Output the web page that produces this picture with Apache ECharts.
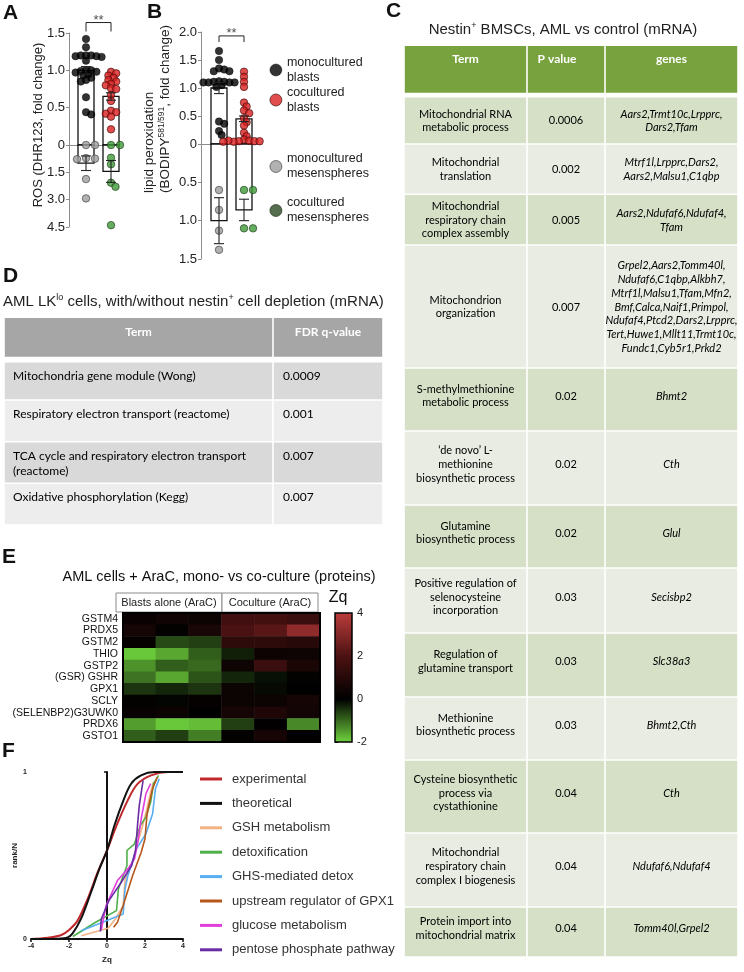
<!DOCTYPE html>
<html>
<head>
<meta charset="utf-8">
<script src="https://cdn.jsdelivr.net/npm/echarts@6/dist/echarts.min.js"></script>
<style>
html,body{margin:0;padding:0;background:#fff;}
#main{width:744px;height:972px;}
</style>
</head>
<body>
<div id="main"></div>
<script>
// ---- panel A : ROS (DHR123), blasts up / mesenspheres down
var aMonoBlasts=[1.42,1.31,1.2,1.2,1.2,1.19,1.19,1.18,1.13,1.0,1.0,0.99,0.98,0.97,0.95,0.93,0.9,0.87,0.85,0.64,0.44,0.41];
var aCoBlasts=[0.98,0.96,0.93,0.9,0.87,0.85,0.82,0.8,0.76,0.75,0.67,0.59,0.46,0.44,0.42,0.38,0.21];
var aMonoMesen=[0,0,0.72,0.75,0.78,1.87,2.93];
var aCoMesen=[0,0,0.7,1.06,2.07,2.29,4.4];
var aBlastBars=[[1,1.0,0.05],[2,0.65,0.05]];   // x, mean, sem
var aMesenBars=[[1,1.0,0.4],[2,1.45,0.6]];
// ---- panel B : lipid peroxidation
var bMonoBlasts=[1.66,1.5,1.35,1.33,1.3,1.3,1.12,1.11,1.11,1.1,1.1,1.1,1.1,1.05,1.02,0.4,0.36,0.23,0.16];
var bCoBlasts=[1.29,1.2,1.11,1.02,0.74,0.67,0.6,0.55,0.46,0.39,0.33,0.2,0.14,0.08,0.06,0.05,0.05,0.04,0.05,0.06,0.05,0.04];
var bMonoMesen=[0.6,0.86,1.13,1.38];
var bCoMesen=[0.6,0.6,1.1,1.1];
var bBlastBars=[[1,1.0,0.1],[2,0.45,0.05]];
var bMesenBars=[[1,1.0,0.3],[2,0.86,0.14]];

// ---- panel C table
var cHead=['Term','P value','genes'];
var cTerms=['Mitochondrial RNA\nmetabolic process','Mitochondrial\ntranslation','Mitochondrial\nrespiratory chain\ncomplex assembly','Mitochondrion\norganization','S-methylmethionine\nmetabolic process','\u2018de novo\u2019 L-\nmethionine\nbiosynthetic process','Glutamine\nbiosynthetic process','Positive regulation of\nselenocysteine\nincorporation','Regulation of\nglutamine transport','Methionine\nbiosynthetic process','Cysteine biosynthetic\nprocess via\ncystathionine','Mitochondrial\nrespiratory chain\ncomplex I biogenesis','Protein import into\nmitochondrial matrix'];
var cPvals=['0.0006','0.002','0.005','0.007','0.02','0.02','0.02','0.03','0.03','0.03','0.04','0.04','0.04'];
var cGenes=['Aars2,Trmt10c,Lrpprc,\nDars2,Tfam','Mtrf1l,Lrpprc,Dars2,\nAars2,Malsu1,C1qbp','Aars2,Ndufaf6,Ndufaf4,\nTfam','Grpel2,Aars2,Tomm40l,\nNdufaf6,C1qbp,Alkbh7,\nMtrf1l,Malsu1,Tfam,Mfn2,\nBmf,Calca,Naif1,Primpol,\nNdufaf4,Ptcd2,Dars2,Lrpprc,\nTert,Huwe1,Mllt11,Trmt10c,\nFundc1,Cyb5r1,Prkd2','Bhmt2','Cth','Glul','Secisbp2','Slc38a3','Bhmt2,Cth','Cth','Ndufaf6,Ndufaf4','Tomm40l,Grpel2'];

// ---- panel D table
var dHead=['Term','FDR q-value'];
var dTerms=['Mitochondria gene module (Wong)','Respiratory electron transport (reactome)','TCA cycle and respiratory electron transport\n(reactome)','Oxidative phosphorylation (Kegg)'];
var dFdr=['0.0009','0.001','0.007','0.007'];

// ---- panel E heatmap
var hmRows=['GSTM4','PRDX5','GSTM2','THIO','GSTP2','(GSR) GSHR','GPX1','SCLY','(SELENBP2)G3UWK0','PRDX6','GSTO1'];
var hmCols=['b1','b2','b3','c1','c2','c3'];
var hmGroups=['Blasts alone (AraC)','Coculture (AraC)'];
var hmValues=[
 [0.25,0.45,0.3,1.7,1.75,1.5],
 [0.55,0.1,0.65,1.9,2.2,3.2],
 [0.15,-0.7,-0.6,1.2,1.2,1.0],
 [-1.9,-1.6,-0.9,-0.3,0.35,0.4],
 [-1.4,-0.9,-1.0,0.4,1.5,0.7],
 [-1.1,-1.6,-0.8,-0.35,-0.15,0.1],
 [-0.5,-0.35,-0.5,0.3,-0.1,0.0],
 [0.1,-0.05,0.15,0.3,0.3,0.55],
 [0.2,0.3,0.0,0.55,0.8,0.5],
 [-1.5,-1.9,-1.8,-0.6,0.05,-1.3],
 [-0.9,-0.6,-1.2,0.1,0.6,0.05]
];

// ---- panel F rank plot
var fNames=['experimental','theoretical','GSH metabolism','detoxification','GHS-mediated detox','upstream regulator of GPX1','glucose metabolism','pentose phosphate pathway'];
var fExperimental=[[-4,0],[-3.1,0.008],[-2.4,0.024],[-2,0.054],[-1.55,0.11],[-1.02,0.24],[-0.49,0.4],[0,0.53],[0.47,0.67],[1.09,0.83],[1.62,0.93],[2.32,0.98],[3.2,1],[4,1]];
var fTheoretical=[[-4,0],[-2.6,0.002],[-2.07,0.01],[-1.81,0.034],[-1.37,0.12],[-0.84,0.28],[-0.4,0.42],[0,0.53],[0.39,0.68],[0.83,0.82],[1.27,0.93],[1.79,0.98],[2.5,1],[4,1]];
var fGsh=[[-1.35,0.02],[0.05,0.065],[0.45,0.12],[0.85,0.2],[0.95,0.35],[1.3,0.45],[1.6,0.57],[1.9,0.69],[2.1,0.78],[2.3,0.88],[2.45,0.94]];
var fDetox=[[-1.8,0.015],[-0.6,0.1],[0.5,0.17],[0.6,0.3],[1.05,0.44],[1.05,0.53],[1.45,0.57],[1.75,0.68],[2.05,0.73],[2.3,0.82],[2.45,0.93],[2.72,0.98]];
var fGhs=[[-1.35,0.05],[0.85,0.15],[0.95,0.3],[1.1,0.38],[1.55,0.54],[2.05,0.63],[2.4,0.75],[2.55,0.9],[2.75,0.96]];
var fUpstream=[[0.35,0.07],[0.55,0.1],[0.85,0.2],[1.35,0.38],[1.8,0.52],[2.0,0.6],[2.1,0.74],[2.2,0.8],[2.4,0.9],[2.65,0.97]];
var fGlucose=[[-0.3,0.055],[-0.05,0.2],[0.55,0.35],[1.1,0.42],[1.45,0.48],[1.62,0.58],[1.8,0.72],[2.05,0.87],[2.3,0.93]];
var fPentose=[[-0.35,0.045],[-0.3,0.12],[0.1,0.23],[0.75,0.34],[1.3,0.44],[1.5,0.53],[1.62,0.7],[1.7,0.8],[1.9,0.95]];
var fData=[fExperimental,fTheoretical,fGsh,fDetox,fGhs,fUpstream,fGlucose,fPentose];
var fColors=['#c0282b','#111111','#f3b283','#4fb04a','#58aef0','#b5561a','#e03fdc','#6a2ca4'];

var fontA='"Liberation Sans", Arial, sans-serif';
var fontT='Lato, "Liberation Sans", sans-serif';

var chart=echarts.init(document.getElementById('main'));

// layout of the panels
var gA1={left:69,top:33,width:50,height:112}, gA2={left:69,top:145,width:50,height:82};
var gB1={left:201,top:32,width:61,height:112}, gB2={left:201,top:144,width:61,height:115};
var gE={left:123,top:613,width:197,height:129}, gCb={left:335,top:613,width:17,height:129};
var gF={left:31,top:772,width:152,height:167};
var pxX=25; // px per x unit in A/B

// simple beeswarm so dots with close values spread sideways
function swarm(vals,xc,pxY,d,step){
  var placed=[],out=[];
  vals.forEach(function(v){
    var py=v*pxY,ox=0;
    for(var n=0;n<40;n++){
      var k=n===0?0:(n%2?Math.ceil(n/2):-Math.ceil(n/2));
      ox=k*step;
      var hit=placed.some(function(p){var dx=p[0]-ox,dy=p[1]-py;return dx*dx+dy*dy<d*d;});
      if(!hit)break;
    }
    placed.push([ox,py]);
    out.push([xc+ox/pxX,v]);
  });
  return out;
}

function barRender(params,api){
  var x=api.value(0),m=api.value(1);
  var p0=api.coord([x,0]),p1=api.coord([x,m]);
  return {type:'rect',shape:{x:p0[0]-8,y:Math.min(p0[1],p1[1]),width:16,height:Math.abs(p1[1]-p0[1])},
    style:{fill:'#fff',stroke:'#111',lineWidth:1.3}};
}
function errRender(params,api){
  var x=api.value(0),m=api.value(1),e=api.value(2);
  var a=api.coord([x,m+e]),b=api.coord([x,m-e]);
  var st={stroke:'#222',lineWidth:1.1};
  return {type:'group',children:[
    {type:'line',shape:{x1:a[0],y1:a[1],x2:b[0],y2:b[1]},style:st},
    {type:'line',shape:{x1:a[0]-5,y1:a[1],x2:a[0]+5,y2:a[1]},style:st},
    {type:'line',shape:{x1:b[0]-5,y1:b[1],x2:b[0]+5,y2:b[1]},style:st}
  ]};
}

var dotStyle={
  mb:{color:'#000',borderColor:'#000',borderWidth:0.5},
  cb:{color:'#d91f1f',borderColor:'#3b0a0a',borderWidth:0.8},
  mm:{color:'#9d9d9d',borderColor:'#3a3a3a',borderWidth:0.8},
  cm:{color:'#3f9a37',borderColor:'#1c3a17',borderWidth:0.8}
};
var nm={mb:'monocultured\nblasts',cb:'cocultured\nblasts',mm:'monocultured\nmesenspheres',cm:'cocultured\nmesenspheres'};

var series=[];
function panel(ix1,ix2,pxY1,pxY2,mb,cb,mm,cm,bars1,bars2,brY,brLeg){
  series.push({type:'custom',xAxisIndex:ix1,yAxisIndex:ix1,renderItem:barRender,data:bars1,z:1,silent:true});
  series.push({type:'custom',xAxisIndex:ix2,yAxisIndex:ix2,renderItem:barRender,data:bars2,z:1,silent:true});
  series.push({type:'scatter',name:nm.mb,xAxisIndex:ix1,yAxisIndex:ix1,symbolSize:7.5,itemStyle:dotStyle.mb,data:swarm(mb,1,pxY1,4.2,2.6),z:3});
  series.push({type:'scatter',name:nm.cb,xAxisIndex:ix1,yAxisIndex:ix1,symbolSize:7.5,itemStyle:dotStyle.cb,data:swarm(cb,2,pxY1,4.2,2.6),z:3});
  series.push({type:'scatter',name:nm.mm,xAxisIndex:ix2,yAxisIndex:ix2,symbolSize:7.5,itemStyle:dotStyle.mm,data:swarm(mm,1,pxY2,6,4.5),z:3,clip:false});
  series.push({type:'scatter',name:nm.cm,xAxisIndex:ix2,yAxisIndex:ix2,symbolSize:7.5,itemStyle:dotStyle.cm,data:swarm(cm,2,pxY2,6,4.5),z:3,clip:false});
  series.push({type:'custom',xAxisIndex:ix1,yAxisIndex:ix1,renderItem:errRender,data:bars1,z:4,silent:true});
  series.push({type:'custom',xAxisIndex:ix2,yAxisIndex:ix2,renderItem:errRender,data:bars2,z:4,silent:true});
  // significance bracket
  series.push({type:'line',xAxisIndex:ix1,yAxisIndex:ix1,clip:false,symbol:'none',silent:true,
    lineStyle:{color:'#222',width:1},data:[[1,brLeg],[1,brY],[2,brY],[2,brLeg]],z:5});
  series.push({type:'scatter',xAxisIndex:ix1,yAxisIndex:ix1,clip:false,symbolSize:0,silent:true,data:[[1.5,brY]],
    label:{show:true,formatter:'**',position:'top',distance:0,offset:[0,4],fontSize:13,color:'#222',fontFamily:fontA}});
}
panel(0,1,74.7,18.2,aMonoBlasts,aCoBlasts,aMonoMesen,aCoMesen,aBlastBars,aMesenBars,1.64,1.52);
panel(2,3,56,77,bMonoBlasts,bCoBlasts,bMonoMesen,bCoMesen,bBlastBars,bMesenBars,1.93,1.82);

// heatmap
var hmData=[];
hmValues.forEach(function(row,r){row.forEach(function(v,c){hmData.push([c,r,v]);});});
var hmIndex=series.length;
series.push({type:'heatmap',xAxisIndex:4,yAxisIndex:4,data:hmData,itemStyle:{borderWidth:0},silent:true});

// rank curves
fNames.forEach(function(n,i){
  series.push({type:'line',name:n,xAxisIndex:6,yAxisIndex:6,data:fData[i],symbol:'none',smooth:i<2?0.35:false,
    lineStyle:{color:fColors[i],width:i<2?2:1.6},itemStyle:{color:fColors[i]},z:i<2?2:3,silent:true});
});

var lblA={color:'#222',fontSize:13,fontFamily:fontA,margin:4};
var axLine={show:true,lineStyle:{color:'#8c8c8c',width:1}};
var tick={show:true,length:3,lineStyle:{color:'#8c8c8c'}};
function fmtUp(v){return v===0?'0':v.toFixed(1);}
function fmtDown(v){return v===0?'':v.toFixed(1);}
function hiddenX(g,min,max){return {type:'value',gridIndex:g,min:min,max:max,show:false};}
function zeroX(g,min,max){return {type:'value',gridIndex:g,min:min,max:max,axisLine:axLine,axisTick:{show:false},axisLabel:{show:false},splitLine:{show:false}};}
function valY(g,max,int,inv,fmt){return {type:'value',gridIndex:g,min:0,max:max,interval:int,inverse:inv,axisLine:axLine,axisTick:tick,
  axisLabel:Object.assign({formatter:fmt},lblA),splitLine:{show:false}};}

var fLbl={fontSize:7,fontWeight:'bold',color:'#222',fontFamily:fontA,margin:4};

// graphic: labels, titles, tables
var gfx=[];
function txt(x,y,s,o){o=o||{};gfx.push({type:'text',x:x,y:y,rotation:o.rot||0,silent:true,z:o.z||10,
  style:{text:s,fill:o.fill||'#222',fontSize:o.size||12,fontFamily:o.family||fontA,fontWeight:o.weight||'normal',
  fontStyle:o.style||'normal',align:o.align||'left',verticalAlign:o.va||'middle',lineHeight:o.lh,rich:o.rich}});}
function box(x,y,w,h,fill,stroke,lw,z){gfx.push({type:'rect',silent:true,z:z||1,shape:{x:x,y:y,width:w,height:h},
  style:{fill:fill||'none',stroke:stroke||null,lineWidth:lw||0}});}

[['A',3,13],['B',147,12],['C',386,11],['D',3,276],['E',2,557],['F',2,751]].forEach(function(p){
  txt(p[1],p[2],p[0],{size:21,weight:'bold',fill:'#111'});
});

// axis titles A/B
txt(38,125,'ROS (DHR123, fold change)',{size:13,rot:Math.PI/2,align:'center'});
txt(157,193,'{a|lipid peroxidation}\n{a|(BODIPY}{s|581/591}{a|, fold change)}',{rot:Math.PI/2,align:'left',
  rich:{a:{fontSize:13.5,fontFamily:fontA,color:'#222',lineHeight:16},s:{fontSize:8.5,fontFamily:fontA,color:'#222',lineHeight:10,verticalAlign:'top'}}});

// titles
var supRich=function(sz){return {a:{fontSize:sz,fontFamily:fontA,color:'#111',lineHeight:sz+3},s:{fontSize:sz*0.6,fontFamily:fontA,color:'#111',lineHeight:sz*0.6+1,verticalAlign:'top'}};};
txt(563,30,'{a|Nestin}{s|+}{a| BMSCs, AML vs control (mRNA)}',{align:'center',rich:supRich(15)});
txt(3,302,'{a|AML LK}{s|lo}{a| cells, with/without nestin}{s|+}{a| cell depletion (mRNA)}',{align:'left',rich:supRich(15)});
txt(219,577,'AML cells + AraC, mono- vs co-culture (proteins)',{size:14.5,align:'center',fill:'#111'});

// table C
var cEdges=[404,527,605,738];
var cRowTops=[96.7,144,194.3,245,368,431,505,568,633,697,760,833,907,957];
var cHeadTop=46,cHeadBot=92.7,gap=0.8;
var cColors={head:'#77a23e',dark:'#d5e0c7',light:'#e8ece3'};
for(var c=0;c<3;c++){
  box(cEdges[c]+gap,cHeadTop,cEdges[c+1]-cEdges[c]-2*gap,cHeadBot-cHeadTop,cColors.head);
  txt((cEdges[c]+cEdges[c+1])/2-(c===1?9:0),59,cHead[c],{family:fontT,weight:'bold',size:12,fill:'#fff',align:'center'});
}
cTerms.forEach(function(t,i){
  var y0=cRowTops[i],y1=cRowTops[i+1],h=y1-y0;
  var fill=i%2===0?cColors.dark:cColors.light;
  var cy=y0+h/2-(i>=4?4:0)+0.5;
  var cols=[t,cPvals[i],cGenes[i]];
  for(var c=0;c<3;c++){
    box(cEdges[c]+gap,y0+gap,cEdges[c+1]-cEdges[c]-2*gap,h-2*gap,fill);
    txt((cEdges[c]+cEdges[c+1])/2,cy,cols[c],{family:fontT,size:11,lh:13.7,align:'center',fill:'#000',style:c===2?'italic':'normal'});
  }
});

// table D
var dEdges=[4,273,383];
var dRowTops=[361.7,400,441.7,483.3,525];
var dHeadTop=318,dHeadBot=356.7;
for(var c=0;c<2;c++){
  box(dEdges[c]+gap,dHeadTop,dEdges[c+1]-dEdges[c]-2*gap,dHeadBot-dHeadTop,'#a6a6a6');
  txt((dEdges[c]+dEdges[c+1])/2,331.7,dHead[c],{family:fontT,weight:'bold',size:12,fill:'#fff',align:'center'});
}
dTerms.forEach(function(t,i){
  var y0=dRowTops[i],y1=dRowTops[i+1];
  var fill=i%2===0?'#d9d9d9':'#ededed';
  box(dEdges[0]+gap,y0+gap,dEdges[1]-dEdges[0]-2*gap,y1-y0-2*gap,fill);
  box(dEdges[1]+gap,y0+gap,dEdges[2]-dEdges[1]-2*gap,y1-y0-2*gap,fill);
  txt(13,y0+6.5,t,{family:fontT,size:12,lh:15,va:'top',fill:'#000'});
  txt(283,y0+6.5,dFdr[i],{family:fontT,size:12,lh:15,va:'top',fill:'#000'});
});

// heatmap group headers, borders, colorbar label
var hgX=[116,222,318];
hmGroups.forEach(function(g,i){
  box(hgX[i],593,hgX[i+1]-hgX[i],19,'#fff','#8a8a8a',1,2);
  txt((hgX[i]+hgX[i+1])/2,602.5,g,{size:11,align:'center',fill:'#222'});
});
box(gE.left,gE.top,gE.width,gE.height,null,'#000',2,20);
box(gCb.left,gCb.top,gCb.width,gCb.height,null,'#000',1.5,20);
txt(338,598,'Zq',{size:16,align:'center',fill:'#111'});

var option={
  animation:false,
  backgroundColor:'#fff',
  grid:[gA1,gA2,gB1,gB2,gE,gCb,gF].map(function(g){return Object.assign({containLabel:false},g);}),
  xAxis:[
    zeroX(0,0.32,2.32),hiddenX(1,0.32,2.32),zeroX(2,0.28,2.72),hiddenX(3,0.28,2.72),
    {type:'category',gridIndex:4,data:hmCols,show:false},
    {type:'value',gridIndex:5,show:false},
    {type:'value',gridIndex:6,min:-4,max:4,interval:2,axisLine:{show:true,lineStyle:{color:'#111',width:2}},
      axisTick:{show:true,length:3,lineStyle:{color:'#111',width:1.5}},axisLabel:fLbl,splitLine:{show:false},
      name:'Zq',nameLocation:'middle',nameGap:17,nameTextStyle:{fontSize:8,fontWeight:'bold',color:'#222',fontFamily:fontA}}
  ],
  yAxis:[
    valY(0,1.5,0.5,false,fmtUp),valY(1,4.5,1.5,true,fmtDown),valY(2,2,0.5,false,fmtUp),valY(3,1.5,0.5,true,fmtDown),
    {type:'category',gridIndex:4,data:hmRows,inverse:true,axisLine:{show:false},axisTick:{show:false},
      axisLabel:{interval:0,fontSize:10.5,color:'#111',fontFamily:fontA,margin:5}},
    {type:'value',gridIndex:5,position:'right',min:-2,max:4,interval:2,axisLine:{show:false},
      axisTick:{show:true,length:3,lineStyle:{color:'#111'}},axisLabel:{fontSize:11,color:'#222',fontFamily:fontA,margin:5},splitLine:{show:false}},
    {type:'value',gridIndex:6,min:0,max:1,interval:1,axisLine:{show:true,lineStyle:{color:'#111',width:2}},
      axisTick:{show:true,length:3,lineStyle:{color:'#111',width:1.5}},axisLabel:fLbl,splitLine:{show:false},
      name:'rank/N',nameLocation:'middle',nameGap:12,nameRotate:90,nameTextStyle:{fontSize:8,fontWeight:'bold',color:'#222',fontFamily:fontA}}
  ],
  visualMap:{type:'continuous',seriesIndex:hmIndex,min:-2,max:4,calculable:false,show:true,
    left:gCb.left-5,top:gCb.top-5,itemWidth:gCb.width,itemHeight:gCb.height,padding:5,
    inRange:{color:['#6fd13d','#000000','#4d1212','#bb3c3c']},textStyle:{color:'#fff',fontSize:1}},
  legend:[
    {data:[{name:nm.mb,itemStyle:dotStyle.mb},{name:nm.cb,itemStyle:dotStyle.cb}],orient:'vertical',left:269.5,top:55,
      icon:'circle',itemWidth:12,itemHeight:12,itemGap:0,selectedMode:false,padding:0,
      textStyle:{fontSize:12.5,lineHeight:15,color:'#222',fontFamily:fontA}},
    {data:[{name:nm.mm,itemStyle:dotStyle.mm},{name:nm.cm,itemStyle:{color:'#2d4a22',borderColor:'#1a2a14',borderWidth:0.8}}],orient:'vertical',left:269.5,top:151.5,
      icon:'circle',itemWidth:12,itemHeight:12,itemGap:14,selectedMode:false,padding:0,
      textStyle:{fontSize:12.5,lineHeight:15,color:'#222',fontFamily:fontA}},
    {data:fNames,orient:'vertical',left:200,top:771.5,icon:'rect',itemWidth:22,itemHeight:3,itemGap:9.4,selectedMode:false,padding:0,
      textStyle:{fontSize:13,lineHeight:15,color:'#333',fontFamily:fontA,padding:[0,0,0,5]}}
  ],
  series:series,
  graphic:gfx
};
chart.setOption(option);
</script>
</body>
</html>
